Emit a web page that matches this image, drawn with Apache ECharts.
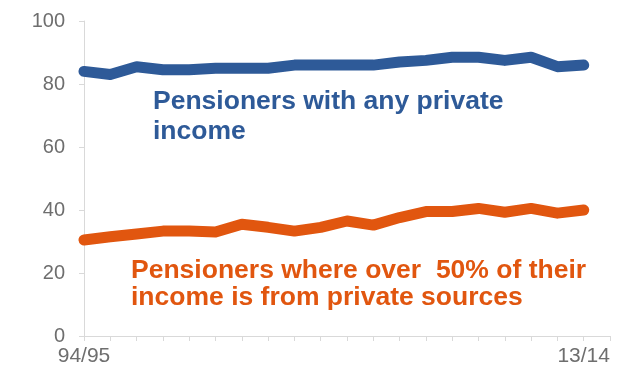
<!DOCTYPE html>
<html>
<head>
<meta charset="utf-8">
<script src="https://cdn.jsdelivr.net/npm/echarts@6/dist/echarts.min.js"></script>
<style>
  html, body { margin: 0; padding: 0; background: #ffffff; }
  #chart { width: 628px; height: 370px; }
</style>
</head>
<body>
<div id="chart"></div>
<script>
// Financial years; the trailing blank slot gives the axis one extra interval past 13/14
const years = ['94/95', '95/96', '96/97', '97/98', '98/99', '99/00', '00/01', '01/02',
  '02/03', '03/04', '04/05', '05/06', '06/07', '07/08', '08/09', '09/10', '10/11',
  '11/12', '12/13', '13/14', ''];

// Percentage of pensioners with any private income
const anyPrivate = [84, 83, 85.5, 84.5, 84.5, 85, 85, 85, 86, 86, 86, 86, 87, 87.5,
  88.5, 88.5, 87.5, 88.5, 85.5, 86];

// Percentage where over 50% of income is from private sources
const overHalfPrivate = [30.5, 31.5, 32.4, 33.3, 33.3, 33, 35.5, 34.5, 33.3, 34.5, 36.5,
  35.2, 37.6, 39.5, 39.5, 40.5, 39.3, 40.5, 39, 40];

const yTicks = { min: 0, max: 100, step: 20 };
const shownYears = ['94/95', '13/14'];

const labelAnyPrivate = 'Pensioners with any private\nincome';
const labelOverHalf = 'Pensioners where over  50% of their\nincome is from private sources';

const BLUE = '#2E5A98';
const ORANGE = '#E1560F';
const AXIS_GREY = '#D9D9D9';
const TEXT_GREY = '#6E6E6E';
const FONT = '"Liberation Sans", Arial, sans-serif';

const chart = echarts.init(document.getElementById('chart'), null, { renderer: 'canvas' });

chart.setOption({
  animation: false,
  backgroundColor: '#ffffff',
  grid: { left: 84, right: 18, top: 21, bottom: 34, containLabel: false },
  xAxis: {
    type: 'category',
    data: years,
    boundaryGap: false,
    axisLine: { show: true, lineStyle: { color: AXIS_GREY, width: 1 } },
    axisTick: { show: true, interval: 0, length: 5, lineStyle: { color: AXIS_GREY } },
    axisLabel: {
      interval: 0,
      formatter: v => (shownYears.includes(v) ? v : ''),
      color: TEXT_GREY,
      fontFamily: FONT,
      fontSize: 21,
      margin: 10
    },
    splitLine: { show: false }
  },
  yAxis: {
    type: 'value',
    min: yTicks.min,
    max: yTicks.max,
    interval: yTicks.step,
    axisLine: { show: true, lineStyle: { color: AXIS_GREY, width: 1 } },
    axisTick: { show: true, length: 5, lineStyle: { color: AXIS_GREY } },
    axisLabel: {
      color: TEXT_GREY,
      fontFamily: FONT,
      fontSize: 20,
      margin: 19
    },
    splitLine: { show: false }
  },
  series: [
    {
      name: 'Pensioners with any private income',
      type: 'line',
      data: anyPrivate,
      symbol: 'none',
      lineStyle: { color: BLUE, width: 11, cap: 'round', join: 'round' },
      z: 3
    },
    {
      name: 'Pensioners where over 50% of their income is from private sources',
      type: 'line',
      data: overHalfPrivate,
      symbol: 'none',
      lineStyle: { color: ORANGE, width: 11, cap: 'round', join: 'round' },
      z: 3
    }
  ],
  graphic: [
    {
      type: 'text',
      left: 153,
      top: 87,
      style: {
        text: labelAnyPrivate,
        fill: BLUE,
        font: 'bold 26.5px ' + FONT,
        lineHeight: 30
      }
    },
    {
      type: 'text',
      left: 131,
      top: 257,
      style: {
        text: labelOverHalf,
        fill: ORANGE,
        font: 'bold 26.5px ' + FONT,
        lineHeight: 27
      }
    }
  ]
});
</script>
</body>
</html>
